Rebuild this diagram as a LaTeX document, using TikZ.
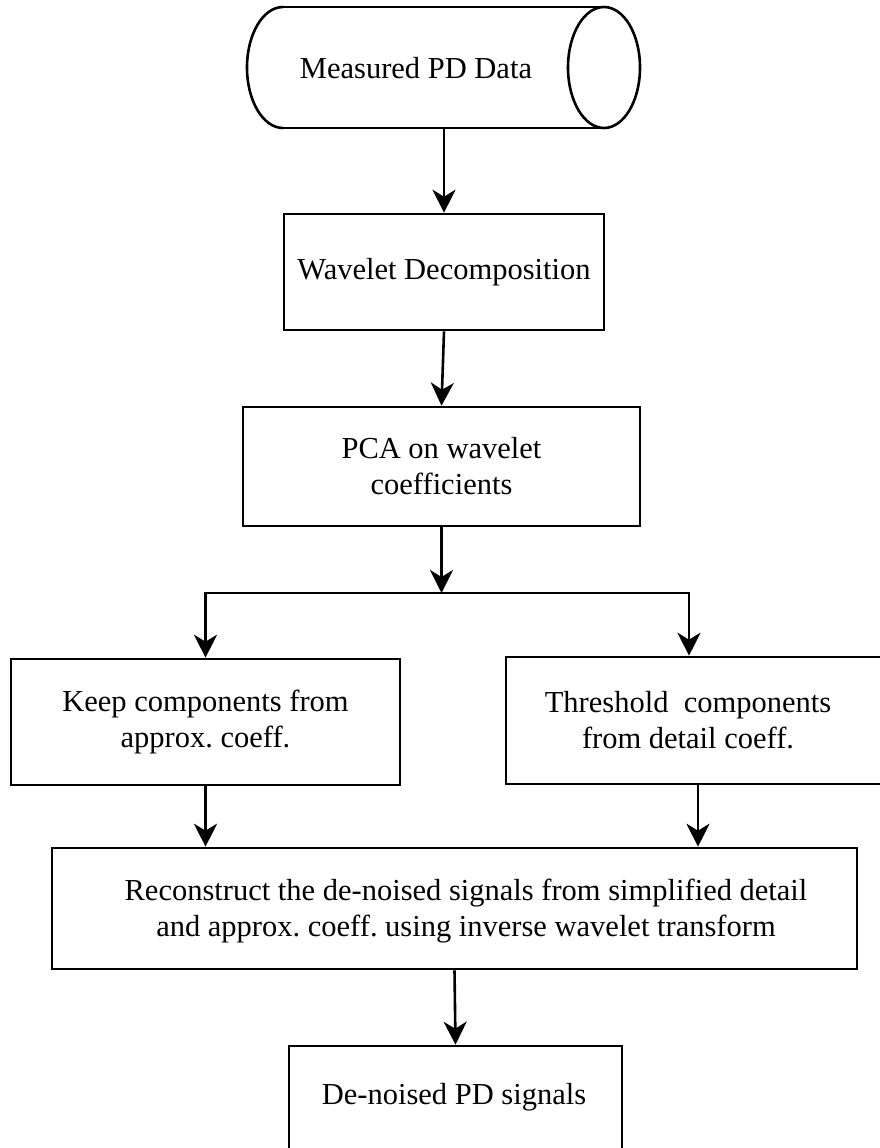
\documentclass[tikz,border=0pt]{standalone}
\usepackage{fontspec}
\setmainfont{Liberation Serif}
\usetikzlibrary{arrows.meta}
\frenchspacing
\begin{document}
\begin{tikzpicture}[x=1pt,y=-1pt,
  ln/.style={line width=2.6pt},
  arr/.style={ln,-{Stealth[length=23pt,width=23pt,inset=7pt]}},
  box/.style={draw,ln,rectangle,inner sep=0pt},
  txt/.style={align=center,inner sep=0pt,font=\fontsize{30.5}{36}\selectfont}
]
\useasboundingbox (0,0) rectangle (880,1148);
\clip (0,0) rectangle (880,1148);
\fill[white] (0,0) rectangle (880,1148);

% cylinder
\node[inner sep=0pt,minimum width=393pt,minimum height=121pt] (cyl) at (443.5,67.5) {};
\draw[ln] (283,7) -- (604,7);
\draw[ln] (283,128) -- (604,128);
\draw[ln] (283,7) arc[start angle=90,end angle=270,x radius=36pt,y radius=60.5pt];
\draw[ln] (604,67.5) ellipse[x radius=36pt,y radius=60.5pt];
\node[txt] (cyltxt) at (416,68) {Measured PD Data};

% boxes
\node[box,txt,minimum width=320pt,minimum height=116pt] (wav) at (444,272) {Wavelet Decomposition};
\node[box,txt,minimum width=397pt,minimum height=119pt] (pca) at (441.5,466.5) {PCA on wavelet\\coefficients};
\node[box,txt,minimum width=389pt,minimum height=126pt] (keep) at (205.5,722) {Keep components from\\approx. coeff.};
\node[box,minimum width=394pt,minimum height=127pt] (thr) at (703,720.5) {};
\node[txt] (thrtxt) at (688,720) {Threshold\ \ components\\from detail coeff.};
\node[box,minimum width=805pt,minimum height=121pt] (rec) at (454.5,908.5) {};
\node[txt] (rectxt) at (466,911) {Reconstruct the de-noised signals from simplified detail\\and approx. coeff. using inverse wavelet transform};
\node[box,minimum width=333pt,minimum height=154pt] (den) at (455.5,1123) {};
\node[txt] (dentxt) at (454,1097) {De-noised PD signals};

% connectors
\draw[arr] (wav.north |- cyl.south) -- (wav.north);
\draw[arr] (wav.south) -- (pca.north);
\coordinate (br) at (441.5,593);
\draw[arr] (pca.south) -- (br);
\draw[arr] (br) -| (keep.north);
\draw[arr] (br) -| ([xshift=-14pt]thr.north);
\draw[arr] (keep.south) -- (keep.south |- rec.north);
\draw[arr] ([xshift=-5pt]thr.south) -- ([xshift=-5pt]thr.south |- rec.north);
\draw[arr] (rec.south) -- (den.north);
\end{tikzpicture}
\end{document}
